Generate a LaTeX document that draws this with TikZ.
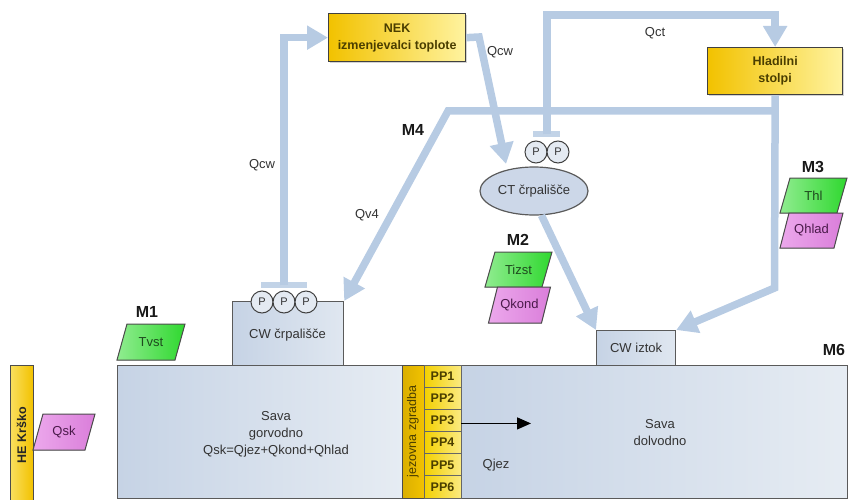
\documentclass[tikz,border=0pt]{standalone}
\usepackage{fontspec}
\setmainfont{Liberation Sans}
\usetikzlibrary{arrows.meta,shapes.geometric,shadows}

\definecolor{flowc}{HTML}{B7CBE3}
\definecolor{riverl}{HTML}{C6D3E5}
\definecolor{riverr}{HTML}{E6ECF3}
\definecolor{edgec}{HTML}{5A5A5A}
\definecolor{goldc}{HTML}{F2C200}
\definecolor{paleyel}{HTML}{FFF3A0}
\definecolor{ppl}{HTML}{F3D000}
\definecolor{ppr}{HTML}{FBEA80}
\definecolor{grnl}{HTML}{90EC90}
\definecolor{grnr}{HTML}{2FD82F}
\definecolor{pnkl}{HTML}{ECA8EC}
\definecolor{pnkr}{HTML}{DA7EDA}
\definecolor{txtc}{HTML}{333333}
\definecolor{yeltxt}{HTML}{4A3E00}
\definecolor{grntxt}{HTML}{1E4A1E}
\definecolor{pnktxt}{HTML}{4A1A4A}
\definecolor{pumpf}{HTML}{E4EAF2}

\newcommand\mkpara[8]{%
  \filldraw[#7] ({#2-#4/2-#6/2},{#3+#5/2}) -- ({#2-#4/2+#6/2},{#3-#5/2})
    -- ({#2+#4/2+#6/2},{#3-#5/2}) -- ({#2+#4/2-#6/2},{#3+#5/2}) -- cycle;
  \node[text=#1txt] (#8) at (#2,#3) {\csname mk#8\endcsname};}

\begin{document}
\begin{tikzpicture}[x=1pt,y=-1pt,
  font=\fontsize{13}{17}\selectfont, text=txtc,
  flow/.style={draw=flowc, line width=7.5pt, line join=miter, -{Triangle[width=23pt,length=21pt]}},
  riverbox/.style={draw=edgec, line width=1.2pt, left color=riverl, right color=riverr, inner sep=0pt, anchor=north west},
  cwbox/.style={draw=edgec, line width=1.2pt, left color=riverl, right color=riverr!80!riverl, inner sep=0pt, anchor=north west},
  yelbox/.style={draw=black!75, line width=1.3pt, left color=goldc, right color=paleyel, inner sep=0pt, anchor=north west, align=center, text=yeltxt, font=\fontsize{12.5}{17}\selectfont\bfseries, drop shadow={shadow xshift=1.5pt, shadow yshift=-1.5pt, opacity=0.35}},
  ppbox/.style={draw=black!60, line width=0.8pt, left color=ppl, right color=ppr, inner sep=0pt, minimum width=37pt, minimum height=22.17pt, text=yeltxt, font=\fontsize{12.5}{15}\selectfont\bfseries},
  pump/.style={circle, draw=black!75, line width=1pt, fill=pumpf, minimum size=22pt, inner sep=0pt, font=\fontsize{11}{12}\selectfont},
  mlabel/.style={font=\fontsize{16}{18}\selectfont\bfseries, text=black!90},
  grnpar/.style={draw=black!70, line width=1pt, left color=grnl, right color=grnr},
  pnkpar/.style={draw=black!70, line width=1pt, left color=pnkl, right color=pnkr},
  plain/.style={inner sep=1pt}
]
\useasboundingbox (0,0) rectangle (856,500);

% ---- rivers and dam ----
\node[riverbox, minimum width=285pt, minimum height=133pt] (gor) at (117,365) {};
\node[riverbox, minimum width=386pt, minimum height=133pt] (dol) at (461,365) {};
\node[plain, align=center] (gortxt) at (276,434) {Sava\\gorvodno\\Qsk=Qjez+Qkond+Qhlad};
\node[plain, align=center] (doltxt) at (660,433) {Sava\\dolvodno};

\node[draw=black!70, line width=1pt, left color=goldc!90!black, right color=goldc, rotate=90,
      minimum width=133pt, minimum height=22pt, inner sep=0pt, text=yeltxt,
      font=\fontsize{12.5}{15}\selectfont] (jez) at (413,431.5) {jezovna zgradba};
\foreach \i in {1,...,6} {
  \node[ppbox] (pp\i) at (442.5,{365+22.17*(\i-0.5)}) {PP\i};
}
\coordinate (qjezend) at (531,428);
\draw[line width=1.3pt, -{Triangle[width=12pt,length=14pt]}] ([yshift=-3pt]pp3.east) -- ([yshift=-3pt]pp3.east -| qjezend);
\node[plain] (lqjez) at (496,465) {Qjez};

% ---- HE Krsko ----
\node[draw=black!70, line width=1pt, left color=paleyel!60!goldc, right color=goldc, rotate=90,
      minimum width=140pt, minimum height=23pt, inner sep=0pt, text=black!85,
      font=\fontsize{12.5}{15}\selectfont\bfseries] (he) at (21.5,435) {HE Krško};

% ---- parallelograms ----
\def\mkqsk{Qsk}\def\mktvst{Tvst}\def\mktizst{Tizst}\def\mkqkond{Qkond}\def\mkthl{Thl}\def\mkqhlad{Qhlad}
\mkpara{pnk}{64}{432}{52}{36}{10}{pnkpar}{qsk}
\mkpara{grn}{151}{342}{58}{36}{10}{grnpar}{tvst}
\mkpara{grn}{518.5}{269.5}{57}{35}{10}{grnpar}{tizst}
\mkpara{pnk}{519.5}{305}{53}{36}{9}{pnkpar}{qkond}
\mkpara{grn}{813.5}{195.5}{57}{35}{10}{grnpar}{thl}
\mkpara{pnk}{811.5}{230.5}{54}{35}{9}{pnkpar}{qhlad}

% ---- M labels ----
\node[mlabel] (m1) at (147,312) {M1};
\node[mlabel] (m2) at (518,240) {M2};
\node[mlabel] (m3) at (813,167) {M3};
\node[mlabel] (m4) at (413,130) {M4};
\node[mlabel] (m6) at (834,350) {M6};

% ---- boxes ----
\node[yelbox, minimum width=137pt, minimum height=48pt] (nek) at (328,13) {NEK\\izmenjevalci toplote};
\node[yelbox, minimum width=135pt, minimum height=47pt] (hl) at (707,47) {Hladilni\\stolpi};
\node[cwbox, minimum width=111pt, minimum height=64pt] (cwp) at (232,301) {};
\node[plain] (cwptxt) at (287.5,335) {CW črpališče};
\node[cwbox, minimum width=79pt, minimum height=35pt] (cwi) at (596,330) {CW iztok};

% ---- flows ----
\coordinate (topy) at (0,15);
\coordinate (cwtee) at (284,285);
\coordinate (cttee) at (547,134);
\coordinate (nekbend) at (479,37);
\coordinate (ctin) at (506,164);
\coordinate (hlj) at (774.5,111);
\coordinate (m4c) at (448,111);
\coordinate (hlc) at (774.5,288);

\fill[flowc!85!white] (261,281.5) rectangle (307,287.5);
\draw[flow] (cwtee) |- (nek.west);
\draw[flow] (nek.east) -- (nekbend) -- (ctin);
\fill[flowc!85!white] (533,131) rectangle (560,136.5);
\draw[flow] (cttee) -- (cttee |- topy) -- (hl.north |- topy) -- (hl.north);
\draw[flow] (hl.south) -- (hlc) -- (cwi.north east);
\draw[flow] (hlj) -- (m4c) -- (cwp.north east);

% ---- CT pump station ----
\node[ellipse, draw=edgec, line width=1.2pt, fill=riverl!90!white, minimum width=108pt, minimum height=48pt, inner sep=0pt] (ct) at (534,191) {CT črpališče};
\draw[flow] (ct.-73) -- (cwi.north west);
\node[pump] (ctp1) at (536,152) {P};
\node[pump] (ctp2) at (558,152) {P};

% ---- CW pumps ----
\node[pump] (cwp1) at (262,302) {P};
\node[pump] (cwp2) at (284,302) {P};
\node[pump] (cwp3) at (306,302) {P};

% ---- flow labels ----
\node[plain] (lqcw1) at (262,165) {Qcw};
\node[plain] (lqcw2) at (500,52) {Qcw};
\node[plain] (lqct) at (655,33) {Qct};
\node[plain] (lqv4) at (367,215) {Qv4};
\end{tikzpicture}
\end{document}
